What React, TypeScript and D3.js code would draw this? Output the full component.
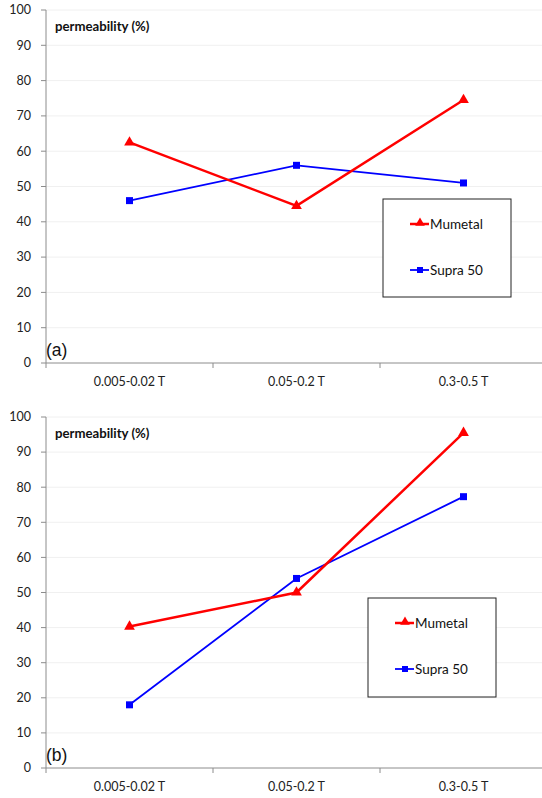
import React from "react";
import * as d3 from "d3";

const categories = ["0.005-0.02 T", "0.05-0.2 T", "0.3-0.5 T"];
const yTicks = [0, 10, 20, 30, 40, 50, 60, 70, 80, 90, 100];
const mumetalA = [62.5, 44.5, 74.5];
const supraA = [46, 56, 51];
const mumetalB = [40.3, 50, 95.5];
const supraB = [18, 54, 77.3];
const seriesNames = ["Mumetal", "Supra 50"];

const FONT = "Lato, 'Open Sans', sans-serif";

type PanelProps = {
  top: number;
  bottom: number;
  mumetal: number[];
  supra: number[];
  tag: string;
  legend: { x: number; y: number; w: number; h: number };
};

function Panel({ top, bottom, mumetal, supra, tag, legend }: PanelProps) {
  const left = 46;
  const right = 547;
  const x = d3.scaleBand<string>().domain(categories).range([left, right]);
  const y = d3.scaleLinear().domain([0, 100]).range([bottom, top]);
  const cx = (c: string) => (x(c) as number) + x.bandwidth() / 2;
  const line = d3
    .line<number>()
    .x((_, i) => cx(categories[i]))
    .y((d) => y(d));
  const tri = d3.symbol().type(d3.symbolTriangle).size(50)();
  const sq = (s: number) => `M${-s},${-s}h${2 * s}v${2 * s}h${-2 * s}Z`;
  return (
    <g>
      {yTicks.filter((t) => t > 0).map((t) => (
        <line key={"g" + t} x1={left} x2={right} y1={y(t)} y2={y(t)} stroke="#f0f0f0" strokeWidth={1} />
      ))}
      <line x1={left} x2={left} y1={top} y2={bottom} stroke="#8c8c8c" strokeWidth={1} />
      <line x1={left} x2={right} y1={bottom} y2={bottom} stroke="#8c8c8c" strokeWidth={1} />
      {yTicks.map((t) => (
        <g key={"t" + t}>
          <line x1={left - 5} x2={left} y1={y(t)} y2={y(t)} stroke="#8c8c8c" />
          <text x={31} y={y(t)} dy="0.35em" textAnchor="end" fontSize={12.5} fontFamily={FONT} fill="#222">
            {t}
          </text>
        </g>
      ))}
      {categories.map((c) => (
        <g key={c}>
          <line x1={x(c) as number} x2={x(c) as number} y1={bottom} y2={bottom + 5} stroke="#8c8c8c" />
          <text x={cx(c)} y={bottom + 23} textAnchor="middle" fontSize={12.5} fontFamily={FONT} fill="#222">
            {c}
          </text>
        </g>
      ))}
      <text x={55} y={top + 21} fontSize={13.2} fontWeight="bold" fontFamily={FONT} fill="#111">
        permeability (%)
      </text>
      <text x={46} y={bottom - 7} fontSize={17.5} fontFamily="'Liberation Sans', Arial, sans-serif" fill="#111">
        {tag}
      </text>
      <path d={line(supra) || ""} fill="none" stroke="#0000ff" strokeWidth={1.8} />
      <path d={line(mumetal) || ""} fill="none" stroke="#ff0000" strokeWidth={2.5} />
      {supra.map((v, i) => (
        <path key={"s" + i} d={sq(3.5)} transform={`translate(${cx(categories[i])},${y(v)})`} fill="#0000ff" />
      ))}
      {mumetal.map((v, i) => (
        <path key={"m" + i} d={tri} transform={`translate(${cx(categories[i])},${y(v)})`} fill="#ff0000" />
      ))}
      <rect x={legend.x} y={legend.y} width={legend.w} height={legend.h} fill="white" stroke="#222" strokeWidth={1} />
      {seriesNames.map((n, i) => {
        const ly = legend.y + (i === 0 ? 25 : 71);
        const lx = legend.x + 27;
        return (
          <g key={n}>
            <line x1={lx} x2={lx + 19} y1={ly} y2={ly} stroke={i === 0 ? "#ff0000" : "#0000ff"} strokeWidth={i === 0 ? 2.5 : 1.8} />
            {i === 0 ? (
              <path d={d3.symbol().type(d3.symbolTriangle).size(40)() || ""} transform={`translate(${lx + 10},${ly - 1})`} fill="#ff0000" />
            ) : (
              <path d={sq(3)} transform={`translate(${lx + 10},${ly})`} fill="#0000ff" />
            )}
            <text x={lx + 20} y={ly} dy="0.35em" fontSize={13.5} fontFamily={FONT} fill="#111">
              {n}
            </text>
          </g>
        );
      })}
    </g>
  );
}

export default function App() {
  return (
    <svg width={542} height={798} style={{ position: "absolute", left: 0, top: 0, background: "white" }}>
      <rect width={542} height={798} fill="white" />
      <Panel top={10} bottom={363} mumetal={mumetalA} supra={supraA} tag="(a)" legend={{ x: 383, y: 199, w: 128, h: 98 }} />
      <Panel top={417} bottom={768} mumetal={mumetalB} supra={supraB} tag="(b)" legend={{ x: 368, y: 598, w: 128, h: 99 }} />
    </svg>
  );
}
